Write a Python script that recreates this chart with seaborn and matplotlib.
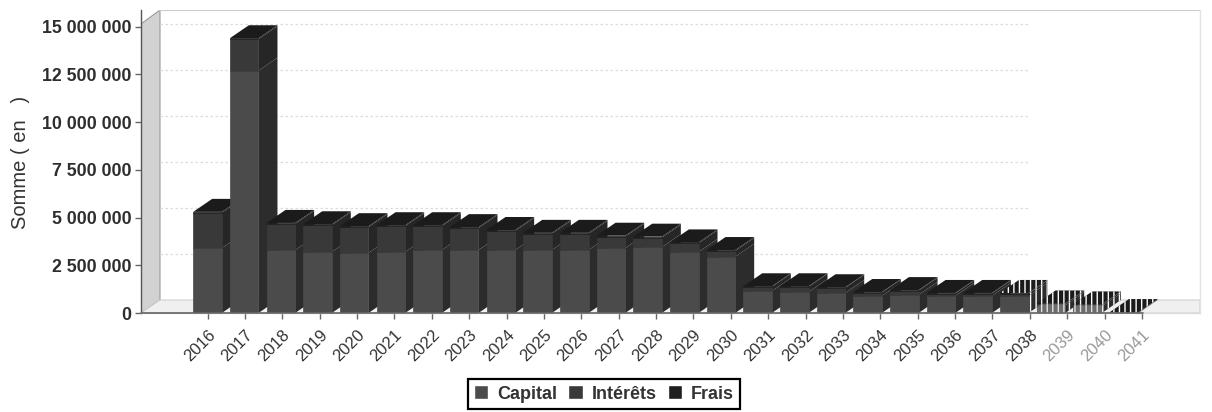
import matplotlib
matplotlib.use('Agg')
import matplotlib.pyplot as plt
from matplotlib.patches import Patch, Polygon
from matplotlib.transforms import ScaledTranslation
import pandas as pd
import seaborn as sns

annees = [str(a) for a in range(2016, 2042)]
capital = [3400000, 12700000, 3300000, 3200000, 3150000, 3200000, 3300000, 3300000, 3300000,
           3300000, 3300000, 3400000, 3450000, 3200000, 2950000, 1150000, 1100000, 1050000,
           900000, 950000, 900000, 900000, 900000, 400000, 350000, 20000]
interets = [1850000, 1650000, 1370000, 1400000, 1350000, 1350000, 1250000, 1150000, 1000000,
            850000, 850000, 600000, 500000, 450000, 300000, 220000, 270000, 270000,
            170000, 220000, 120000, 120000, 120000, 80000, 80000, 20000]
frais = [50000, 50000, 50000, 50000, 50000, 50000, 50000, 50000, 50000,
         50000, 50000, 50000, 50000, 50000, 50000, 30000, 30000, 30000,
         30000, 30000, 30000, 30000, 30000, 20000, 20000, 10000]
yticks = [0, 2500000, 5000000, 7500000, 10000000, 12500000, 15000000]

C_CAPITAL = '#4b4b4b'
C_INTERETS = '#393939'
C_FRAIS = '#1f1f1f'
S_CAPITAL = '#2c2c2c'
S_INTERETS = '#262626'
TOP = '#1b1b1b'
FADE_FROM = 22  # 2038 et apres : delaves sur le scan

W, H = 1212, 412
PAS = 36.67  # px entre deux barres
PAS_TICK = 37.38  # px entre deux graduations (pas tout a fait le meme)
Y_MAX = 15880000
X_MIN, X_MAX = -66.5 / PAS, (1200 - 207.5) / PAS
DX, DY = 19 / PAS, 13 / 47.7 * 2500000  # profondeur 3D

sns.set_theme(style='white')
plt.rcParams['font.family'] = ['Liberation Sans', 'DejaVu Sans']
plt.rcParams['hatch.linewidth'] = 1.0

df = pd.DataFrame({'annee': annees, 'capital': capital, 'interets': interets, 'frais': frais})
bas_frais = df['capital'] + df['interets']

fig = plt.figure(figsize=(W / 100, H / 100), dpi=100)
ax = fig.add_axes([141 / W, 1 - 313 / H, (1200 - 141) / W, 303 / H])

sns.barplot(data=df, x='annee', y='capital', color=C_CAPITAL, saturation=1, width=0.78,
            linewidth=0, ax=ax)
sns.barplot(data=df, x='annee', y='interets', bottom=df['capital'], color=C_INTERETS,
            saturation=1, width=0.78, linewidth=0, ax=ax)
sns.barplot(data=df, x='annee', y='frais', bottom=bas_frais, color=C_FRAIS,
            saturation=1, width=0.78, linewidth=0, ax=ax)

ax.set_xlim(X_MIN, X_MAX)
ax.set_ylim(0, Y_MAX)

# face laterale et dessus, derives des barres dessinees par seaborn
n = len(annees)
for k, patch in enumerate(ax.patches[:3 * n]):
    i, serie = k % n, k // n
    x0, x1 = patch.get_x(), patch.get_x() + patch.get_width()
    y0, y1 = patch.get_y(), patch.get_y() + patch.get_height()
    patch.set_zorder(5 + i + 0.5)
    fade = i >= FADE_FROM
    if fade and i > FADE_FROM:
        patch.set_edgecolor('white')
        patch.set_hatch('|||')
        patch.set_alpha(0.8)
    else:
        patch.set_edgecolor(patch.get_facecolor())
        patch.set_linewidth(0.5)
    style = dict(ec='white', hatch='|||', lw=0) if fade else dict(ec='none')
    side = [S_CAPITAL, S_INTERETS, TOP][serie]
    ax.add_patch(Polygon([(x1, y0), (x1 + DX, y0 + DY), (x1 + DX, y1 + DY), (x1, y1)],
                         fc=side, zorder=5 + i, **style))
    if serie == 2:
        ax.add_patch(Polygon([(x0, y1), (x0 + DX, y1 + DY), (x1 + DX, y1 + DY), (x1, y1)],
                             fc=TOP, zorder=5 + i, **style))

# mur gauche, sol et fond
back_x = X_MIN + DX
ax.add_patch(Polygon([(X_MIN, 0), (back_x, DY), (back_x, Y_MAX), (X_MIN, 15150000)],
                     fc='#d2d2d2', ec='#9a9a9a', lw=0.8, zorder=1))
ax.add_patch(Polygon([(X_MIN, 0), (back_x, DY), (X_MAX, DY), (X_MAX, 0)],
                     fc='#f0f0f0', ec='#d0d0d0', lw=0.8, zorder=1))
echelle = (15150000 - DY) / 15000000
for v in yticks[1:]:
    ax.plot([back_x, 22.4], [DY + v * echelle] * 2, color='#dcdcdc', lw=0.9, ls=(0, (2, 2)), zorder=2)
ax.plot([back_x, X_MAX], [Y_MAX * 0.9985] * 2, color='#cccccc', lw=1.5, zorder=2)

sns.despine(ax=ax, top=True, right=False)
ax.spines['left'].set_color('#555555')
ax.spines['bottom'].set_color('#dddddd')
ax.spines['right'].set_color('#e2e2e2')
for s in ax.spines.values():
    s.set_linewidth(1.0)
ax.plot([X_MIN, 25.5], [0, 0], color='#666666', lw=1.2, clip_on=False, zorder=40)

ax.set_yticks(yticks)
ax.set_yticklabels([f'{v:,}'.replace(',', ' ') for v in yticks], fontsize=12.8,
                   fontweight='bold', color='#2e2e2e')
ax.set_xticks([i * PAS_TICK / PAS for i in range(n)])
ax.set_xticklabels(annees, rotation=45, ha='right', rotation_mode='anchor', fontsize=12,
                   color='#333333')
offset = ScaledTranslation(8 / 72, 0, fig.dpi_scale_trans)
for i, lab in enumerate(ax.get_xticklabels()):
    lab.set_transform(lab.get_transform() + offset)
    if i >= FADE_FROM + 1:
        lab.set_color('#999999')
ax.tick_params(axis='both', length=4, width=1, color='#666666', left=True, bottom=True, pad=3)
ax.tick_params(axis='x', pad=6)
ax.set_xlabel('')
ax.set_ylabel('')
fig.text(21 / W, 1 - 162 / H, 'Somme ( en   )', rotation=90, ha='center', va='center',
         fontsize=14.5, color='#333333')

handles = [Patch(fc=C_CAPITAL, label='Capital'), Patch(fc=C_INTERETS, label='Intérêts'),
           Patch(fc=C_FRAIS, label='Frais')]
leg = fig.legend(handles=handles, ncol=3, loc='center', bbox_to_anchor=(604 / W, 1 - 394 / H),
                 prop={'size': 13, 'weight': 'bold'}, frameon=True, fancybox=False, framealpha=1,
                 edgecolor='black', handlelength=0.8, handleheight=0.8, handletextpad=0.5,
                 columnspacing=0.6, borderpad=0.35, labelcolor='#333333')
leg.get_frame().set_linewidth(1.6)

fig.savefig('out.png', dpi=100)
